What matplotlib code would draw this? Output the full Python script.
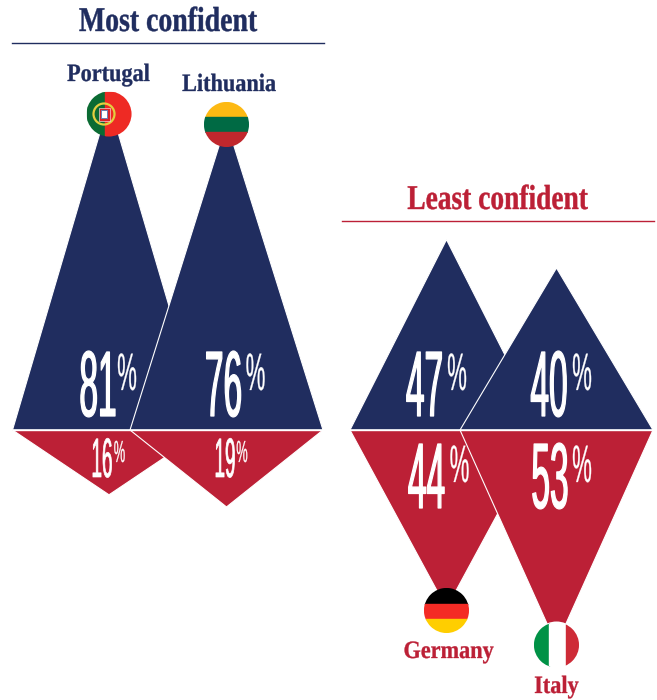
import matplotlib
matplotlib.use("Agg")
import matplotlib.pyplot as plt
from matplotlib.patches import Circle, Polygon, Rectangle
from matplotlib.patheffects import AbstractPathEffect
from matplotlib.transforms import Affine2D

COUNTRIES = ["Portugal", "Lithuania", "Germany", "Italy"]
CONFIDENT = [81, 76, 47, 40]
NOT_CONFIDENT = [16, 19, 44, 53]
HEADINGS = ["Most confident", "Least confident"]

NAVY = "#202D5F"
RED = "#BC2036"
PX_PER_PCT = 4.05
HALF_W = 96.5
BASE_Y = 430

CENTERS = [109, 226.5, 446.5, 556.5]
FLAG_Y = [114, 124.5, 610.5, 645]
FLAG_R = 22.5
NAME_Y = [81, 91, 658, 693]
NAME_X = [108.5, 229, 448.5, 556.5]
UP_NUM_X = [98, 223.5, 424.5, 549]
UP_PCT_X = [127, 255.5, 457, 582]
DOWN_NUM_X = [102, 225, 426.5, 550]
DOWN_PCT_X = [119.5, 242, 459.5, 582]
UP_NUM_Y = [416, 416, 416, 416]
DOWN_NUM_Y = [477, 477, 508, 508]


class Squeeze(AbstractPathEffect):
    # narrows the glyphs around x0, there is no condensed font installed
    def __init__(self, x0, sx, stroke=0.0):
        super().__init__()
        self.x0 = x0
        self.sx = sx
        self.stroke = stroke

    def draw_path(self, renderer, gc, tpath, affine, rgbFace=None):
        t = affine + Affine2D().translate(-self.x0, 0).scale(self.sx, 1).translate(self.x0, 0)
        gc0 = renderer.new_gc()
        gc0.copy_properties(gc)
        gc0.set_linewidth(self.stroke)
        gc0.set_foreground(rgbFace)
        renderer.draw_path(gc0, tpath, t, rgbFace)
        gc0.restore()


def label(ax, x, y, s, size, sx, color, family, weight="normal", stroke=0.0):
    txt = ax.text(x, y, s, fontsize=size, color=color, family=family, weight=weight,
                  ha="center", va="baseline", zorder=5)
    txt.set_path_effects([Squeeze(x, sx, stroke)])
    return txt


def triangle(ax, cx, value, sign, color):
    tip = BASE_Y + sign * value * PX_PER_PCT
    ax.add_patch(Polygon([(cx - HALF_W, BASE_Y), (cx, tip), (cx + HALF_W, BASE_Y)],
                         closed=True, facecolor=color, edgecolor="white", lw=0.8, joinstyle="miter"))


def flag_portugal(ax, cx, cy, clip):
    parts = [
        Rectangle((cx - FLAG_R, cy - FLAG_R), 18, 2 * FLAG_R, color="#0B6B33", zorder=3),
        Rectangle((cx - FLAG_R + 18, cy - FLAG_R), 2 * FLAG_R - 18, 2 * FLAG_R, color="#EE2A24", zorder=3),
    ]
    for p in parts:
        ax.add_patch(p)
        p.set_clip_path(clip)
    ex = cx - 5
    ax.add_patch(Circle((ex, cy), 10.5, fc="none", ec="#E3CF3F", lw=1.6, zorder=3))
    ax.add_patch(Rectangle((ex - 5.5, cy - 6.5), 11, 13, fc="#D8232A", ec="white", lw=0.4, zorder=3))
    ax.add_patch(Rectangle((ex - 3, cy - 4), 6, 8, fc="white", ec="#6C7FB5", lw=0.7, zorder=3))


def flag_bands(ax, cx, cy, clip, colors, cuts, vertical=False):
    edges = [-FLAG_R] + cuts + [FLAG_R]
    for c, a, b in zip(colors, edges[:-1], edges[1:]):
        if vertical:
            p = Rectangle((cx + a, cy - FLAG_R), b - a, 2 * FLAG_R, color=c, zorder=3)
        else:
            p = Rectangle((cx - FLAG_R, cy + a), 2 * FLAG_R, b - a, color=c, zorder=3)
        ax.add_patch(p)
        p.set_clip_path(clip)


def main():
    fig = plt.figure(figsize=(6.57, 7.0), dpi=100)
    ax = fig.add_axes([0, 0, 1, 1])
    ax.set_xlim(0, 657)
    ax.set_ylim(700, 0)
    ax.axis("off")

    serif = "Liberation Serif"
    sans = "Liberation Sans"

    label(ax, 168, 31, HEADINGS[0], 25, 0.80, NAVY, serif, "bold", 0.3)
    ax.plot([11.5, 324], [42.5, 42.5], color=NAVY, lw=1.0)
    label(ax, 497.5, 209, HEADINGS[1], 25, 0.79, RED, serif, "bold", 0.3)
    ax.plot([341.5, 654], [220.5, 220.5], color=RED, lw=1.0)

    for i in range(4):
        triangle(ax, CENTERS[i], CONFIDENT[i], -1, NAVY)
        triangle(ax, CENTERS[i], NOT_CONFIDENT[i], 1, RED)
    for a, b in [(0, 1), (2, 3)]:
        ax.plot([CENTERS[a] - HALF_W, CENTERS[b] + HALF_W], [BASE_Y, BASE_Y], color="white", lw=1.0)

    for i, name in enumerate(COUNTRIES):
        clip = Circle((CENTERS[i], FLAG_Y[i]), FLAG_R, transform=ax.transData)
        if name == "Portugal":
            flag_portugal(ax, CENTERS[i], FLAG_Y[i], clip)
        elif name == "Lithuania":
            flag_bands(ax, CENTERS[i], FLAG_Y[i], clip, ["#FDB913", "#006A44", "#C1272D"], [-7.5, 7.5])
        elif name == "Germany":
            flag_bands(ax, CENTERS[i], FLAG_Y[i], clip, ["#000000", "#F42B25", "#FFCE00"], [-6.5, 8.5])
        else:
            ax.add_patch(Circle((CENTERS[i], FLAG_Y[i]), FLAG_R + 1, fc="white", ec="none", zorder=2))
            flag_bands(ax, CENTERS[i], FLAG_Y[i], clip, ["#009246", "#FFFFFF", "#CE2B37"], [-7.5, 9.5], vertical=True)

        color = NAVY if i < 2 else RED
        label(ax, NAME_X[i], NAME_Y[i], name, 18, 0.89, color, serif, "bold", 0.25)

        label(ax, UP_NUM_X[i], UP_NUM_Y[i], str(CONFIDENT[i]), 67, 0.36, "white", sans, stroke=0.9)
        label(ax, UP_PCT_X[i], UP_NUM_Y[i] - 26, "%", 38, 0.42, "white", sans, stroke=0.2)
        big = i >= 2
        label(ax, DOWN_NUM_X[i], DOWN_NUM_Y[i], str(NOT_CONFIDENT[i]), 67 if big else 40, 0.36 if big else 0.34,
              "white", sans, stroke=0.9 if big else 0.5)
        label(ax, DOWN_PCT_X[i], DOWN_NUM_Y[i] - (26 if big else 15), "%", 38 if big else 22,
              0.42, "white", sans, stroke=0.2)

    fig.savefig("out.png", dpi=100)


if __name__ == "__main__":
    main()
